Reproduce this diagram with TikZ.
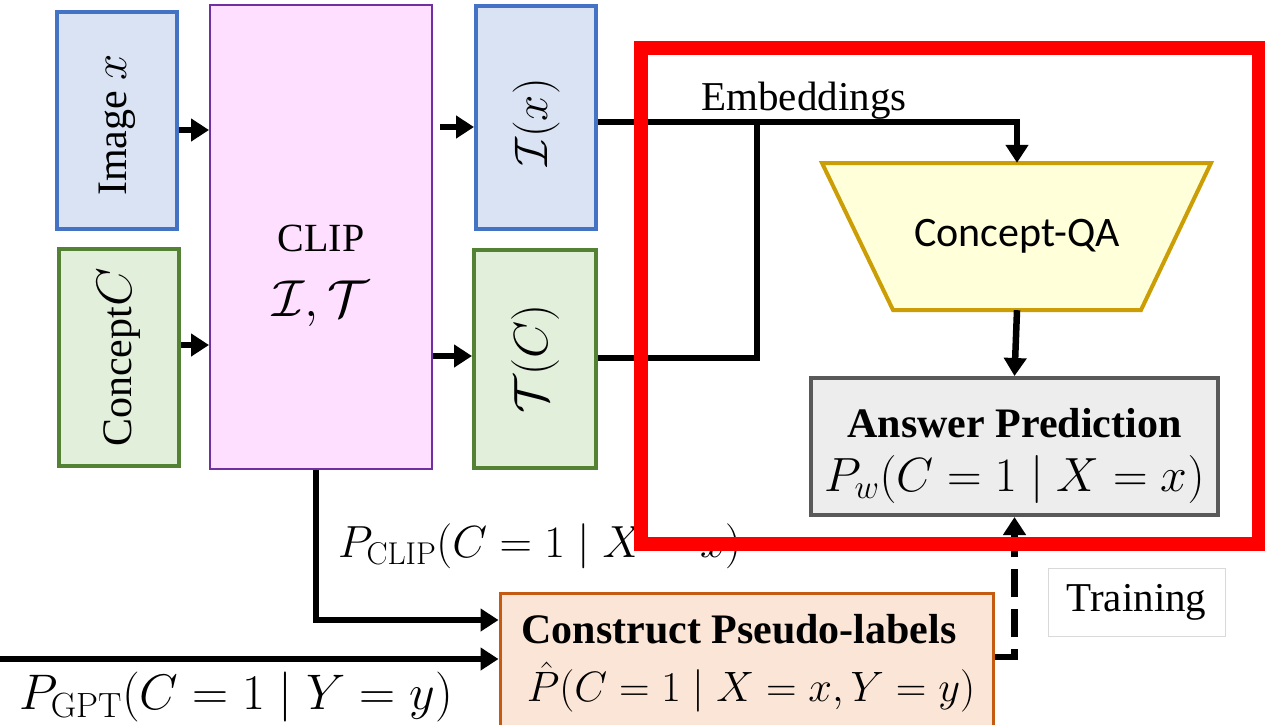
\documentclass[tikz,border=0pt]{standalone}
\usepackage{fix-cm}
\usepackage[no-math]{fontspec}
\setmainfont{Liberation Serif}
\newfontfamily\qafont{Carlito}
\usepackage{graphicx}
\usetikzlibrary{arrows.meta}

\definecolor{blueFill}{HTML}{DAE3F3}
\definecolor{blueLine}{HTML}{4472C4}
\definecolor{greenFill}{HTML}{E2EFDA}
\definecolor{greenLine}{HTML}{548235}
\definecolor{pinkFill}{HTML}{FFDFFF}
\definecolor{purpleLine}{HTML}{7030A0}
\definecolor{yellowFill}{HTML}{FFFFD9}
\definecolor{goldLine}{HTML}{CC9E06}
\definecolor{grayFill}{HTML}{EDEDED}
\definecolor{grayLine}{HTML}{595959}
\definecolor{peachFill}{HTML}{FBE5D6}
\definecolor{orangeLine}{HTML}{C55A11}
\definecolor{frameGray}{HTML}{D9D9D9}

\newcommand{\fs}[1]{\fontsize{#1}{54}\selectfont}
% text turned to read bottom to top
\newcommand{\sidetext}[1]{\rotatebox{90}{#1}}

\begin{document}
\begin{tikzpicture}[x=1pt, y=-1pt,
  txt/.style={font=\fs{41}},
  lbl/.style={inner sep=0pt, align=center},
  box/.style={draw, inner sep=0pt, align=center, txt},
  imgbox/.style={box, fill=blueFill, draw=blueLine, line width=4pt},
  txtbox/.style={box, fill=greenFill, draw=greenLine, line width=4pt},
  clipbox/.style={box, fill=pinkFill, draw=purpleLine, line width=2pt},
  ansbox/.style={box, fill=grayFill, draw=grayLine, line width=4pt},
  pseudobox/.style={box, fill=peachFill, draw=orangeLine, line width=3pt},
  tagbox/.style={box, fill=white, draw=frameGray, line width=1pt},
  wire/.style={line width=6.5pt},
  arr/.style={wire, -{Triangle[length=18pt, width=22pt]}},
]
\clip (0,0) rectangle (1265,724);
\fill[white] (0,0) rectangle (1265,724);

% inputs
\node[imgbox, minimum width=120, minimum height=217] (img) at (117,120.5)
  {\sidetext{\fs{42}Image \fs{47}$x$\hspace{9pt}}};
\node[txtbox, minimum width=120, minimum height=217] (con) at (119,357.5)
  {\sidetext{\fs{42}Concept\fs{50}$C$}};

% encoder
\node[clipbox, minimum width=222, minimum height=464] (clip) at (321,237) {};
\node[lbl, font=\fontsize{40}{65}\selectfont] (cliplbl) at ([yshift=-39pt]clip.center)
  {CLIP\\ \fs{52}$\mathcal{I},\mathcal{T}$};

% embeddings
\node[imgbox, minimum width=120, minimum height=223] (ix) at (536,117.5)
  {\sidetext{\fs{47}$\mathcal{I}(x)$\hspace{10pt}}};
\node[txtbox, minimum width=122, minimum height=218] (tc) at (535,359)
  {\sidetext{\fs{48}$\mathcal{T}(C)$}};

% Concept-QA head
\node[minimum width=251, minimum height=147, inner sep=0pt] (qa) at (1017,236.5) {};
\filldraw[fill=yellowFill, draw=goldLine, line width=4pt]
  (822,163) -- (1211,163) -- (1141,310) -- (893,310) -- cycle;
\node[font=\qafont\fontsize{42}{50}\selectfont] (qalbl) at (qa.center) {Concept-QA};

% prediction
\node[ansbox, minimum width=407, minimum height=137] (ans) at (1014.5,446.5) {};
\node[lbl, font=\fontsize{42}{54}\selectfont] (anslbl) at ([yshift=-9pt]ans.center)
  {\textbf{Answer Prediction}\\ \fs{48}$P_w(C=1\mid X=x)$};

% pseudo-label construction
\node[pseudobox, minimum width=493, minimum height=147] (cons) at (746.5,666.5) {};
\node[lbl, font=\fontsize{42}{54}\selectfont] (conslbl) at ([yshift=3pt,xshift=-7.5pt]cons.center)
  {\textbf{Construct Pseudo-labels}\\[4pt]
   \hspace*{24pt}\fs{42.5}$\hat{P}(C=1\mid X=x,Y=y)$};

\node[tagbox, minimum width=177, minimum height=68] (train) at (1136.5,602) {Training};

% connectors into and out of CLIP
\coordinate (a1) at ([yshift=-9.5pt]img.east);
\draw[arr] (a1) -- (a1 -| clip.west);
\coordinate (a2) at ([yshift=12.5pt]con.east);
\draw[arr] (a2) -- (a2 -| clip.west);
\coordinate (a3) at ([yshift=-9.5pt]ix.west);
\coordinate (a3s) at (a3 -| clip.east);
\draw[arr] ([xshift=7pt]a3s) -- (a3);
\coordinate (a4) at ([yshift=3pt]tc.west);
\draw[arr] (a4 -| clip.east) -- (a4);

% embeddings into Concept-QA
\coordinate (b1) at ([yshift=-4.5pt]ix.east);
\coordinate (j) at (757,122);
\draw[arr] (b1) -| (qa.north);
\coordinate (c1) at ([yshift=1pt]tc.east);
\draw[wire] (c1) -| (j);
\node[txt, anchor=base] (emb) at (804,110) {Embeddings};

\draw[arr] (qa.south) -- (ans.north);

% pseudo-label inputs
\coordinate (d1) at ([xshift=-5pt]clip.south);
\coordinate (d2) at ([yshift=46.5pt]cons.west);
\draw[arr] (d1) |- (d2);
\node[lbl, anchor=west, font=\fs{45}] (pclip) at (338,546)
  {$P_{\mathrm{CLIP}}(C=1\mid X=x)$};

\coordinate (e2) at ([yshift=7.5pt]cons.west);
\coordinate (e1) at (-5,659);
\draw[arr] (e1) -- (e2);
\node[lbl, anchor=west, font=\fs{50}] (pgpt) at (19,697)
  {$P_{\mathrm{GPT}}(C=1\mid Y=y)$};

% training signal
\coordinate (f1) at ([yshift=9.5pt]cons.east);
\draw[arr, dash pattern=on 28pt off 12pt] (f1) -| (ans.south);

% trainable part
\node[draw=red, line width=14pt, minimum width=618, minimum height=496.5, inner sep=0pt]
  (focus) at (949.5,295.75) {};
\end{tikzpicture}
\end{document}
